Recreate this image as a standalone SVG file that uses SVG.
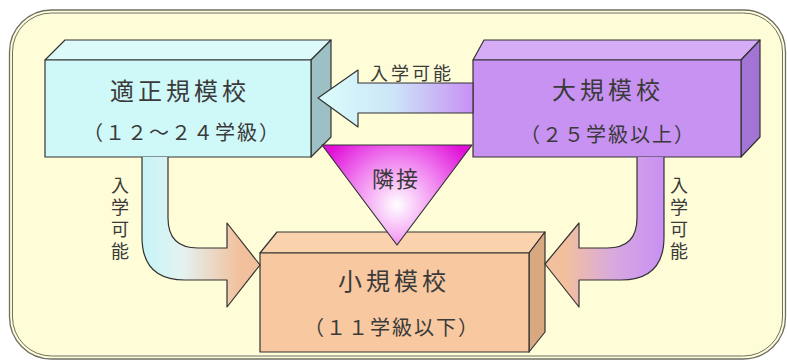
<svg xmlns="http://www.w3.org/2000/svg" width="787" height="362" viewBox="0 0 787 362">
<defs>
<style>
.t{font-family:"Noto Sans CJK JP","Noto Sans CJK SC",sans-serif;fill:#3a3a3a;text-anchor:middle}
.title{font-size:24px;letter-spacing:4px}
.sub{font-size:20px;letter-spacing:2px}
.lbl{font-size:18px;letter-spacing:3px}
.edge{stroke:#333;stroke-width:1.2;stroke-linejoin:round}
</style>
<linearGradient id="gTop" gradientUnits="userSpaceOnUse" x1="330" y1="0" x2="473" y2="0">
<stop offset="0" stop-color="#D8FAFA"/><stop offset="0.45" stop-color="#CCE4F8"/><stop offset="1" stop-color="#C890F4"/>
</linearGradient>
<linearGradient id="gLeft" gradientUnits="userSpaceOnUse" x1="145" y1="0" x2="240" y2="0">
<stop offset="0" stop-color="#C8F4F8"/><stop offset="0.4" stop-color="#E4F2F0"/><stop offset="1" stop-color="#F2C09C"/>
</linearGradient>
<linearGradient id="gRight" gradientUnits="userSpaceOnUse" x1="664" y1="0" x2="565" y2="0">
<stop offset="0" stop-color="#C890F4"/><stop offset="0.5" stop-color="#D8A8E0"/><stop offset="1" stop-color="#F2C09C"/>
</linearGradient>
<radialGradient id="gTri" gradientUnits="userSpaceOnUse" cx="397" cy="205" r="85">
<stop offset="0" stop-color="#FFFFFF"/><stop offset="0.55" stop-color="#F080F0"/><stop offset="1" stop-color="#E010D8"/>
</radialGradient>
</defs>
<rect x="0" y="0" width="787" height="362" fill="#FFFFFF"/>
<g id="frame">
<rect x="9.5" y="10" width="776" height="349" rx="42" fill="#FFFDD8" stroke="#6f6f66" stroke-width="1.3"/>
<rect x="12.5" y="13" width="770" height="343" rx="39" fill="none" stroke="#6f6f66" stroke-width="1"/>
</g>
<g id="school-proper">
<polygon class="edge" points="45,60 65,40 331,40 311,60" fill="#DCFAFA"/>
<polygon class="edge" points="311,60 331,40 331,137 311,157" fill="#9CC0C4"/>
<rect class="edge" x="45" y="60" width="266" height="97" fill="#CFF8F8"/>
<text class="t title" x="180" y="100">適正規模校</text>
<text class="t sub" x="182" y="140">（１２～２４学級）</text>
</g>
<g id="school-large">
<polygon class="edge" points="473,60 484,40 760,40 741,60" fill="#D6ACF6"/>
<polygon class="edge" points="741,60 760,40 760,137 741,157" fill="#A274D4"/>
<rect class="edge" x="473" y="60" width="268" height="97" fill="#C892F2"/>
<text class="t title" x="608" y="99">大規模校</text>
<text class="t sub" x="608" y="142">（２５学級以上）</text>
</g>
<g id="school-small">
<polygon class="edge" points="260,253 277,232 545,232 529,253" fill="#FAD2AE"/>
<polygon class="edge" points="529,253 545,232 545,332 529,352" fill="#D8A880"/>
<rect class="edge" x="260" y="253" width="269" height="99" fill="#F8C8A0"/>
<text class="t title" x="394" y="290">小規模校</text>
<text class="t sub" x="392" y="335">（１１学級以下）</text>
</g>
<g id="connectors">
<path class="edge" d="M473,83 L358,83 L358,70 L318,98 L358,127 L358,113 L473,113 Z" fill="url(#gTop)"/>
<path class="edge" d="M142,157 L142,237 Q142,280 185,280 L227,280 L227,307 L260,265 L227,223 L227,248 L198,248 Q168,248 168,218 L168,157" fill="url(#gLeft)"/>
<path class="edge" d="M637,157 L637,218 Q637,248 607,248 L579,248 L579,223 L545,264 L579,307 L579,280 L621,280 Q664,280 664,237 L664,157" fill="url(#gRight)"/>
<text class="t lbl" x="412" y="80">入学可能</text>
<text class="t lbl" x="120" y="176" style="writing-mode:vertical-rl;text-anchor:start;letter-spacing:4px">入学可能</text>
<text class="t lbl" x="679" y="176" style="writing-mode:vertical-rl;text-anchor:start;letter-spacing:4px">入学可能</text>
</g>
<g id="adjacent">
<polygon class="edge" points="322,145 472,145 397,245" fill="url(#gTri)"/>
<text class="t" x="396" y="187" style="font-size:22px;letter-spacing:2px">隣接</text>
</g>
</svg>
